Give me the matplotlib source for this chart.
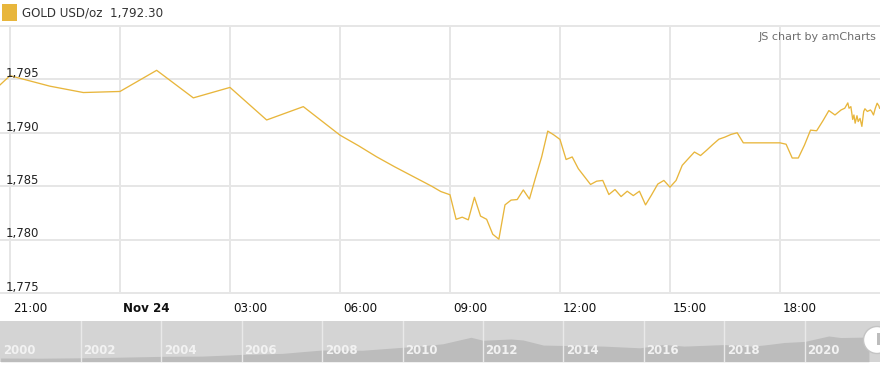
import matplotlib
matplotlib.use("Agg")
import matplotlib.pyplot as plt
import matplotlib.dates as mdates
import matplotlib.patches as patches
import matplotlib.transforms as mtransforms
import pandas as pd

# intraday gold price, Nov 23-24 2020 (day hh:mm)
times = [
    "23 20:44", "23 21:00", "23 22:05", "23 23:00", "24 00:00", "24 01:00", "24 02:00",
    "24 03:00", "24 04:00", "24 05:00", "24 06:00", "24 06:30", "24 07:00", "24 07:30",
    "24 08:00", "24 08:30", "24 08:45", "24 09:00", "24 09:10", "24 09:20", "24 09:30",
    "24 09:40", "24 09:50", "24 10:00", "24 10:10", "24 10:20", "24 10:30", "24 10:40",
    "24 10:50", "24 11:00", "24 11:10", "24 11:20", "24 11:30", "24 11:40", "24 11:50",
    "24 12:00", "24 12:10", "24 12:20", "24 12:30", "24 12:40", "24 12:50", "24 13:00",
    "24 13:10", "24 13:20", "24 13:30", "24 13:40", "24 13:50", "24 14:00", "24 14:10",
    "24 14:20", "24 14:30", "24 14:40", "24 14:50", "24 15:00", "24 15:10", "24 15:20",
    "24 15:30", "24 15:40", "24 15:50", "24 16:00", "24 16:10", "24 16:20", "24 16:30",
    "24 16:40", "24 16:50", "24 17:00", "24 17:30", "24 18:00", "24 18:10", "24 18:20",
    "24 18:30", "24 18:40", "24 18:50", "24 19:00", "24 19:10", "24 19:20", "24 19:30",
    "24 19:40", "24 19:46", "24 19:51", "24 19:53", "24 19:56", "24 19:59", "24 20:01",
    "24 20:03", "24 20:06", "24 20:08", "24 20:11", "24 20:14", "24 20:17", "24 20:19",
    "24 20:23", "24 20:28", "24 20:30", "24 20:33", "24 20:36", "24 20:39", "24 20:42",
    "24 20:43",
]
prices = [
    1794.5, 1795.35, 1794.37, 1793.77, 1793.87, 1795.85, 1793.27,
    1794.25, 1791.2, 1792.45, 1789.78, 1788.8, 1787.75, 1786.8,
    1785.9, 1785.0, 1784.5, 1784.2, 1781.9, 1782.1, 1781.85,
    1783.96, 1782.2, 1781.9, 1780.5, 1780.04, 1783.25, 1783.7,
    1783.75, 1784.65, 1783.8, 1785.8, 1787.74, 1790.16, 1789.8,
    1789.38, 1787.5, 1787.74, 1786.64, 1785.9, 1785.16, 1785.47,
    1785.54, 1784.22, 1784.69, 1784.03, 1784.53, 1784.12, 1784.53,
    1783.25, 1784.2, 1785.2, 1785.54, 1784.91, 1785.54, 1786.95,
    1787.58, 1788.2, 1787.87, 1788.37, 1788.9, 1789.4, 1789.6,
    1789.85, 1790.0, 1789.06, 1789.06, 1789.06, 1788.93, 1787.64,
    1787.64, 1788.84, 1790.25, 1790.19, 1791.1, 1792.08, 1791.67,
    1792.14, 1792.3, 1792.8, 1792.3, 1792.45, 1791.25, 1791.67,
    1790.9, 1791.6, 1791.05, 1791.35, 1790.6, 1792.0, 1792.25,
    1792.0, 1792.14, 1792.0, 1791.67, 1792.3, 1792.77, 1792.5,
    1792.3,
]

tick_times = ["23 21:00", "24 00:00", "24 03:00", "24 06:00", "24 09:00",
              "24 12:00", "24 15:00", "24 18:00"]
tick_labels = ["21:00", "Nov 24", "03:00", "06:00", "09:00", "12:00", "15:00", "18:00"]
y_ticks = [1775, 1780, 1785, 1790, 1795, 1800]
y_labels = ["1,775", "1,780", "1,785", "1,790", "1,795"]

# long term history shown in the scrollbar
hist_years = [2000.0, 2001.0, 2002.0, 2003.0, 2004.0, 2005.0, 2006.0, 2007.0, 2008.0,
              2009.0, 2010.0, 2010.5, 2011.0, 2011.7, 2012.0, 2012.7, 2013.0, 2013.5,
              2014.0, 2015.0, 2015.9, 2016.5, 2017.0, 2018.0, 2018.7, 2019.0, 2019.5,
              2020.0, 2020.6, 2020.9, 2021.6]
hist_prices = [285, 270, 300, 350, 410, 430, 560, 640, 900,
               880, 1110, 1230, 1380, 1880, 1650, 1750, 1670, 1280,
               1250, 1200, 1070, 1330, 1200, 1320, 1200, 1290, 1480,
               1560, 1980, 1860, 1900]
year_labels = [2000, 2002, 2004, 2006, 2008, 2010, 2012, 2014, 2016, 2018, 2020]

GOLD = "#e8b63c"
W, H = 880, 369

def to_dt(lst):
    return pd.to_datetime(["2020-11-" + s for s in lst])

t = to_dt(times)
ticks = to_dt(tick_times)

fig = plt.figure(figsize=(W / 100, H / 100), dpi=100)
fig.patch.set_facecolor("white")

# main price axes
ax = fig.add_axes([0, (H - 293) / H, 1, (293 - 26) / H])
ax.plot(t, prices, color=GOLD, lw=0.95)
ax.set_xlim(pd.Timestamp("2020-11-23 20:43:40"), pd.Timestamp("2020-11-24 20:43:40"))
ax.set_ylim(1775, 1800)
ax.set_yticks(y_ticks)
ax.set_xticks(ticks)
ax.tick_params(length=0, labelbottom=False, labelleft=False)
ax.grid(True, color="#e6e6e6", lw=1.4)
for gl in ax.get_ygridlines():
    gl.set_clip_on(False)
for s in ax.spines.values():
    s.set_visible(False)

ytrans = mtransforms.blended_transform_factory(ax.transAxes, ax.transData)
for v, lab in zip(y_ticks, y_labels):
    ax.text(6 / W, v + 0.2, lab, transform=ytrans, fontsize=8.4,
            color="#222222", va="baseline", ha="left")

xtrans = mtransforms.blended_transform_factory(ax.transData, ax.transAxes)
off = mtransforms.ScaledTranslation(3 / 100, 0, fig.dpi_scale_trans)
for tt, lab in zip(ticks, tick_labels):
    ax.text(tt, -(308 - 293) / (293 - 26), lab, transform=xtrans + off,
            fontsize=8.6, color="#111111", va="center", ha="left",
            fontweight="bold" if lab.startswith("Nov") else "normal")

# scrollbar
sx = fig.add_axes([0, (H - 361.7) / H, 1, 40.7 / H])
sx.set_facecolor("#d4d4d4")
sx.fill_between(hist_years, hist_prices, 0, color="#bcbcbc", lw=0)
sx.set_xlim(2000 - 0.6 / 40.2, 2000 + 879.4 / 40.2)
sx.set_ylim(0, 40.7 * 77)
sx.set_xticks([])
sx.set_yticks([])
for s in sx.spines.values():
    s.set_visible(False)
for yr in year_labels:
    if yr > 2000:
        sx.axvline(yr, color="#e9e9e9", lw=1)
    sx.text(yr + 2.5 / 40.2, 0.27, str(yr), transform=sx.get_xaxis_transform(),
            fontsize=8.5, fontweight="bold", color="#f2f2f2", va="center", ha="left")

# scrollbar handle
fig.add_artist(patches.Ellipse((877 / W, 1 - 340 / H), 27 / W, 27 / H,
                               transform=fig.transFigure, facecolor="white",
                               edgecolor="#c4c4c4", lw=1))
fig.add_artist(patches.Rectangle((877 / W, 1 - 345 / H), 3 / W, 12 / H,
                                 transform=fig.transFigure, facecolor="#bdbdbd", lw=0))

# legend and credit
fig.add_artist(patches.Rectangle((2 / W, 1 - 20.5 / H), 15 / W, 16.5 / H,
                                 transform=fig.transFigure, facecolor=GOLD, lw=0))
fig.text(22 / W, 1 - 13 / H, "GOLD USD/oz  1,792.30", fontsize=8.6, color="#333333",
         va="center", ha="left")
fig.text(876 / W, 1 - 37 / H, "JS chart by amCharts", fontsize=8, color="#6e6e6e",
         va="center", ha="right")

fig.savefig("out.png", dpi=100, facecolor="white")
